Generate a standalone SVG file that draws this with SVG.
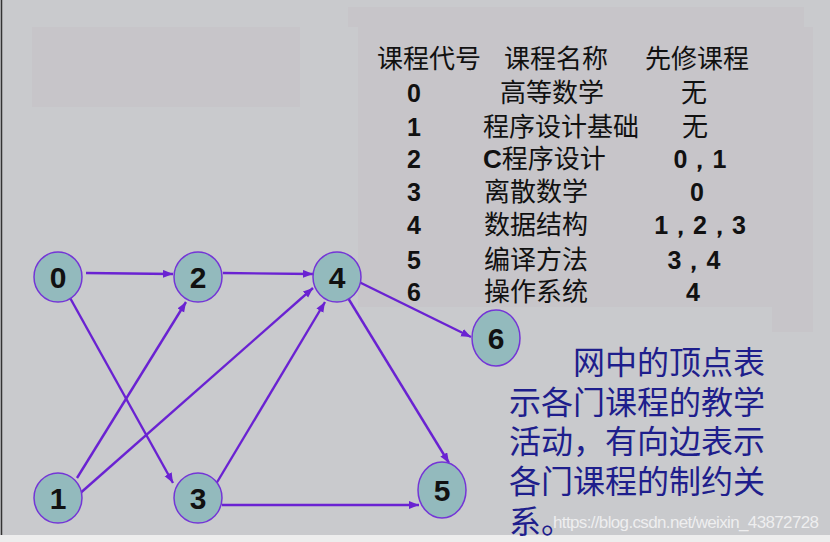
<svg xmlns="http://www.w3.org/2000/svg" width="830" height="542" viewBox="0 0 830 542">
<style>
.node ellipse{fill:#93babd;stroke:#7436d6;stroke-width:1.5}
.node text{font-family:"Liberation Sans",Arial,sans-serif;font-weight:bold;font-size:30px;fill:#111;text-anchor:middle}
.edge{stroke:#6a22d2;stroke-width:2.4;fill:none;marker-end:url(#arr)}
.tb{font-family:"Liberation Sans","Noto Sans CJK SC",sans-serif;font-size:26px;fill:#111}
.num{font-family:"Liberation Sans",Arial,sans-serif;font-weight:bold;font-size:25px;fill:#111}
.blue{font-family:"Noto Sans CJK SC",sans-serif;font-size:32px;fill:#1e1e8c}
</style>
<defs>
<marker id="arr" markerUnits="userSpaceOnUse" markerWidth="12" markerHeight="10" refX="10" refY="4" orient="auto">
<path d="M0,0 L10,4 L0,8 Z" fill="#6a22d2"/>
</marker>
</defs>
<rect x="0" y="0" width="830" height="542" fill="#c9cacd"/>
<rect x="0" y="535" width="830" height="7" fill="#ededed"/>
<line x1="1.5" y1="0" x2="1.5" y2="535" stroke="#333" stroke-width="1.5"/>
<rect x="32" y="27" width="268" height="80" fill="#c7c5c9"/>
<rect x="348" y="7" width="456" height="20" fill="#c7c5c9"/>
<rect x="358" y="27" width="414" height="280" fill="#c7c5c9"/>
<rect x="772" y="27" width="41" height="305" fill="#c7c5c9"/>

<g id="table">
<text class="tb" x="377" y="68">课程代号</text>
<text class="tb" x="504" y="68">课程名称</text>
<text class="tb" x="645" y="68">先修课程</text>
<text class="num" x="414" y="102" text-anchor="middle">0</text>
<text class="num" x="414" y="136" text-anchor="middle">1</text>
<text class="num" x="414" y="168" text-anchor="middle">2</text>
<text class="num" x="414" y="201" text-anchor="middle">3</text>
<text class="num" x="414" y="234" text-anchor="middle">4</text>
<text class="num" x="414" y="269" text-anchor="middle">5</text>
<text class="num" x="414" y="301" text-anchor="middle">6</text>
<text class="tb" x="500" y="102">高等数学</text>
<text class="tb" x="483" y="136">程序设计基础</text>
<text class="tb" x="483" y="168"><tspan font-weight="bold">C</tspan>程序设计</text>
<text class="tb" x="484" y="201">离散数学</text>
<text class="tb" x="484" y="234">数据结构</text>
<text class="tb" x="484" y="269">编译方法</text>
<text class="tb" x="484" y="301">操作系统</text>
<text class="tb" x="694" y="102" text-anchor="middle">无</text>
<text class="tb" x="695" y="136" text-anchor="middle">无</text>
<text class="num" x="700" y="168" text-anchor="middle">0，1</text>
<text class="num" x="697" y="201" text-anchor="middle">0</text>
<text class="num" x="700" y="234" text-anchor="middle">1，2，3</text>
<text class="num" x="694" y="269" text-anchor="middle">3，4</text>
<text class="num" x="693" y="301" text-anchor="middle">4</text>
</g>

<g id="connectors">
<line class="edge" x1="86" y1="273" x2="173" y2="274"/>
<line class="edge" x1="223" y1="273" x2="313" y2="274"/>
<line class="edge" x1="69" y1="296" x2="173" y2="483"/>
<line class="edge" x1="77" y1="478" x2="186" y2="302"/>
<line class="edge" x1="77" y1="496" x2="313" y2="288"/>
<line class="edge" x1="216" y1="484" x2="325" y2="302"/>
<line class="edge" x1="357" y1="281" x2="471" y2="337"/>
<line class="edge" x1="348" y1="298" x2="449" y2="463"/>
<line class="edge" x1="222" y1="505" x2="419" y2="505"/>
</g>

<g id="n0" class="node"><ellipse cx="58" cy="277" rx="24" ry="25"/><text x="58" y="288">0</text></g>
<g id="n2" class="node"><ellipse cx="198" cy="277" rx="24" ry="25"/><text x="198" y="288">2</text></g>
<g id="n4" class="node"><ellipse cx="337" cy="277" rx="24" ry="25"/><text x="337" y="288">4</text></g>
<g id="n1" class="node"><ellipse cx="58" cy="498" rx="24" ry="25"/><text x="58" y="509">1</text></g>
<g id="n3" class="node"><ellipse cx="198" cy="498" rx="24" ry="25"/><text x="198" y="509">3</text></g>
<g id="n6" class="node"><ellipse cx="496" cy="338" rx="24" ry="28"/><text x="496" y="349">6</text></g>
<g id="n5" class="node"><ellipse cx="442" cy="490" rx="24" ry="28"/><text x="442" y="501">5</text></g>

<g id="note">
<text class="blue" x="573" y="374">网中的顶点表</text>
<text class="blue" x="509" y="414">示各门课程的教学</text>
<text class="blue" x="509" y="453">活动，有向边表示</text>
<text class="blue" x="509" y="493">各门课程的制约关</text>
<text class="blue" x="509" y="533">系。</text>
</g>
<text x="553" y="528" font-family="Liberation Sans,Arial,sans-serif" font-size="17" fill="#ffffff" fill-opacity="0.7" textLength="266">https://blog.csdn.net/weixin_43872728</text>
</svg>
